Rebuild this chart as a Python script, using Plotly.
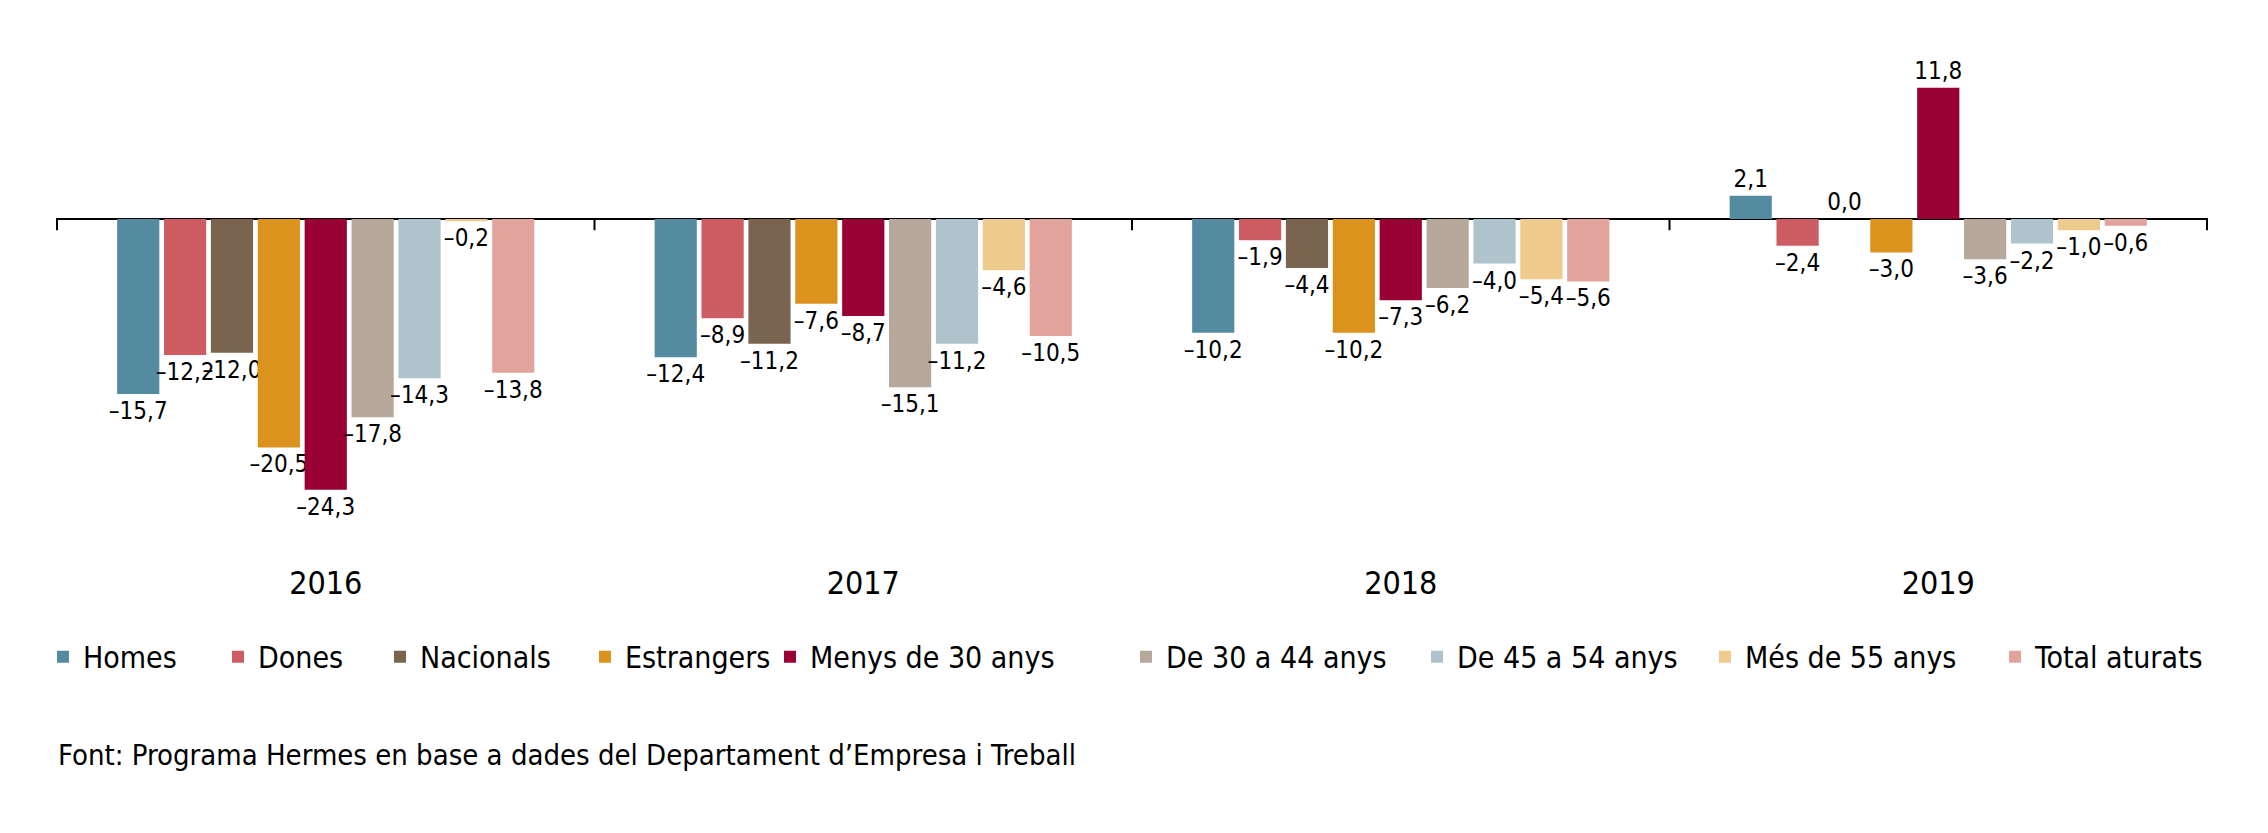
import plotly.graph_objects as go

# dades
anys = ["2016", "2017", "2018", "2019"]
series = [
    "Homes", "Dones", "Nacionals", "Estrangers", "Menys de 30 anys",
    "De 30 a 44 anys", "De 45 a 54 anys", "Més de 55 anys", "Total aturats",
]
homes = [-15.7, -12.4, -10.2, 2.1]
dones = [-12.2, -8.9, -1.9, -2.4]
nacionals = [-12.0, -11.2, -4.4, 0.0]
estrangers = [-20.5, -7.6, -10.2, -3.0]
menys_30 = [-24.3, -8.7, -7.3, 11.8]
de_30_44 = [-17.8, -15.1, -6.2, -3.6]
de_45_54 = [-14.3, -11.2, -4.0, -2.2]
mes_55 = [-0.2, -4.6, -5.4, -1.0]
total = [-13.8, -10.5, -5.6, -0.6]

valors = [homes, dones, nacionals, estrangers, menys_30, de_30_44, de_45_54, mes_55, total]
colors = ["#548BA1", "#CE5C63", "#7A6450", "#DC931D", "#990033",
          "#B6A89A", "#AEC3CC", "#EFCA8D", "#E2A39D"]

FONT = "DejaVu Sans Condensed, Liberation Sans, Arial, sans-serif"

# posició (px) on comença cada entrada de la llegenda
legend_px = [58, 233, 395, 600, 785, 1141, 1432, 1720, 2010]
L, R = 48, 68
W = 2268 - L - R


def fmt(v):
    return f"{v:.1f}".replace(".", ",").replace("-", "–")


fig = go.Figure()
for i, (nom, vals, col) in enumerate(zip(series, valors, colors)):
    fig.add_trace(
        go.Bar(
            x=anys,
            y=vals,
            name=nom,
            legend="legend" if i == 0 else f"legend{i + 1}",
            showlegend=True,
            marker=dict(color=col, line=dict(width=0)),
            text=[fmt(v) for v in vals],
            textposition="outside",
            constraintext="none",
            textfont=dict(size=24, color="black", family=FONT),
            cliponaxis=False,
            hoverinfo="skip",
        )
    )

# marques de l'eix a les vores de cada any
for k in range(len(anys) + 1):
    fig.add_shape(type="line", xref="x", yref="y", x0=k - 0.5, x1=k - 0.5,
                  y0=0, y1=-1.0, line=dict(color="black", width=2))

fig.add_annotation(
    text="Font: Programa Hermes en base a dades del Departament d’Empresa i Treball",
    xref="paper", yref="paper", x=0.0, y=-0.381, xanchor="left", yanchor="middle",
    showarrow=False, font=dict(size=29, color="black", family=FONT),
)

legends = {}
for i, px in enumerate(legend_px):
    key = "legend" if i == 0 else f"legend{i + 1}"
    legends[key] = dict(
        orientation="h", x=(px - 23 - L) / W, y=-0.188,
        xanchor="left", yanchor="middle",
        font=dict(size=30, family=FONT), bgcolor="rgba(0,0,0,0)",
    )

fig.update_layout(
    width=2268,
    height=833,
    margin=dict(l=L, r=R, t=44, b=280),
    paper_bgcolor="white",
    plot_bgcolor="white",
    barmode="group",
    bargap=0.215,
    bargroupgap=0.1,
    showlegend=True,
    font=dict(family=FONT, color="black"),
    **legends,
)
fig.update_xaxes(showline=False, ticks="", showgrid=False,
                 tickfont=dict(size=32, family=FONT, color="black"))
fig.update_yaxes(range=[-30.7, 15], showgrid=False, showticklabels=False,
                 zeroline=True, zerolinecolor="black", zerolinewidth=2)

fig.write_html("out.html")
